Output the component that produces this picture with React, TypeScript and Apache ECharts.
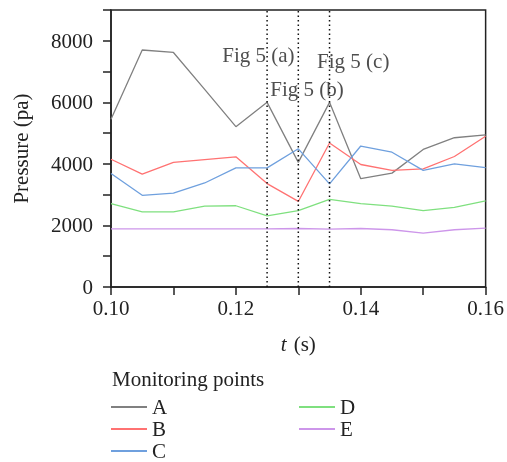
import React, { useEffect, useRef } from "react";
import * as echarts from "echarts";

const times = [0.1, 0.105, 0.11, 0.115, 0.12, 0.125, 0.13, 0.135, 0.14, 0.145, 0.15, 0.155, 0.16];
const seriesA = [5450, 7700, 7620, 6420, 5210, 6000, 4050, 6000, 3520, 3700, 4470, 4850, 4940];
const seriesB = [4150, 3670, 4050, 4140, 4230, 3360, 2780, 4680, 3980, 3790, 3840, 4240, 4900];
const seriesC = [3690, 2980, 3050, 3380, 3870, 3870, 4490, 3350, 4580, 4380, 3790, 4000, 3880];
const seriesD = [2710, 2440, 2440, 2630, 2640, 2310, 2480, 2850, 2710, 2630, 2480, 2590, 2800];
const seriesE = [1890, 1890, 1890, 1890, 1890, 1890, 1900, 1880, 1900, 1860, 1750, 1860, 1910];
const seriesNames = ["A", "B", "C", "D", "E"];
const markTimes = [0.125, 0.13, 0.135];
const annotations = [
  { text: "Fig 5 (a)", x: 0.1236, y: 7540 },
  { text: "Fig 5 (b)", x: 0.1314, y: 6440 },
  { text: "Fig 5 (c)", x: 0.1388, y: 7340 },
];
const yMajorTicks = [0, 2000, 4000, 6000, 8000];
const xMajorTicks = [0.1, 0.12, 0.14, 0.16];
const yRange = [0, 9000];

const colors = ["#808080", "#ff7272", "#6fa0de", "#7fe07f", "#cd96ea"];
const FONT = "'Liberation Serif', 'DejaVu Serif', serif";
const FS = 21;

export default function App() {
  const ref = useRef<HTMLDivElement>(null);
  useEffect(() => {
    if (!ref.current) return;
    const chart = echarts.init(ref.current, null, { renderer: "svg" });
    const all = [seriesA, seriesB, seriesC, seriesD, seriesE];
    const series: any[] = all.map((vals, i) => ({
      name: seriesNames[i],
      type: "line",
      data: times.map((t, j) => [t, vals[j]]),
      symbol: "none",
      lineStyle: { color: colors[i], width: 1.3 },
      itemStyle: { color: colors[i] },
      z: 3,
    }));
    markTimes.forEach((t, k) => {
      series.push({
        name: "mark" + k,
        type: "line",
        data: [
          [t, yRange[0]],
          [t, yRange[1]],
        ],
        symbol: "none",
        silent: true,
        lineStyle: { type: [1.5, 3], color: "#111", width: 1.5 },
        z: 4,
      });
    });
    series.push({
      name: "notes",
      type: "scatter",
      data: annotations.map((a) => ({ name: a.text, value: [a.x, a.y] })),
      symbol: "circle",
      symbolSize: 1,
      silent: true,
      itemStyle: { color: "rgba(0,0,0,0)" },
      label: {
        show: true,
        position: "inside",
        color: "#222",
        fontSize: FS,
        fontFamily: FONT,
        formatter: (p: any) => p.name,
      },
      z: 5,
    });
    const legendCommon = {
      orient: "vertical",
      top: 396,
      height: 80,
      padding: 0,
      itemWidth: 36,
      itemHeight: 2,
      itemGap: 0,
      icon: "rect",
      textStyle: { fontFamily: FONT, fontSize: FS, color: "#222", lineHeight: 22 },
    };
    chart.setOption({
      animation: false,
      color: colors,
      grid: {
        left: 111,
        right: 20,
        top: 10,
        bottom: 175,
        show: true,
        borderColor: "#222",
        borderWidth: 1.5,
        backgroundColor: "transparent",
      },
      legend: [
        { ...legendCommon, left: 111, data: ["A", "B", "C"] },
        { ...legendCommon, left: 299, data: ["D", "E"] },
      ],
      graphic: [
        {
          type: "text",
          left: 112,
          top: 368,
          style: { text: "Monitoring points", fontFamily: FONT, fontSize: FS, fill: "#222" },
        },
      ],
      xAxis: {
        type: "value",
        min: 0.1,
        max: 0.16,
        interval: 0.01,
        splitLine: { show: false },
        axisLine: { lineStyle: { color: "#222", width: 1.5 } },
        axisTick: { show: true, inside: false, length: 8, lineStyle: { color: "#222", width: 1.5 } },
        axisLabel: {
          margin: 10,
          fontFamily: FONT,
          fontSize: FS,
          color: "#222",
          formatter: (v: number) =>
            xMajorTicks.some((m) => Math.abs(m - v) < 1e-6) ? v.toFixed(2) : "",
        },
        name: "{i|t}{n|(s)}",
        nameLocation: "middle",
        nameGap: 46,
        nameTextStyle: {
          rich: {
            i: { fontFamily: FONT, fontSize: FS, fontStyle: "italic", color: "#222", padding: [0, 7, 0, 0] },
            n: { fontFamily: FONT, fontSize: FS, color: "#222", letterSpacing: 1 },
          },
        },
      },
      yAxis: {
        type: "value",
        min: yRange[0],
        max: yRange[1],
        interval: 1000,
        splitLine: { show: false },
        axisLine: { show: true, lineStyle: { color: "#222", width: 1.5 } },
        axisTick: { show: true, inside: false, length: 8, lineStyle: { color: "#222", width: 1.5 } },
        axisLabel: {
          margin: 18,
          fontFamily: FONT,
          fontSize: FS,
          color: "#222",
          formatter: (v: number) => (yMajorTicks.includes(v) ? String(v) : ""),
        },
        name: "Pressure (pa)",
        nameLocation: "middle",
        nameGap: 80,
        nameTextStyle: { fontFamily: FONT, fontSize: FS, color: "#222", letterSpacing: 2 },
      },
      series,
    });
    return () => chart.dispose();
  }, []);
  return (
    <div
      ref={ref}
      style={{ position: "fixed", left: 0, top: 0, width: 507, height: 462, overflow: "visible" }}
    />
  );
}
